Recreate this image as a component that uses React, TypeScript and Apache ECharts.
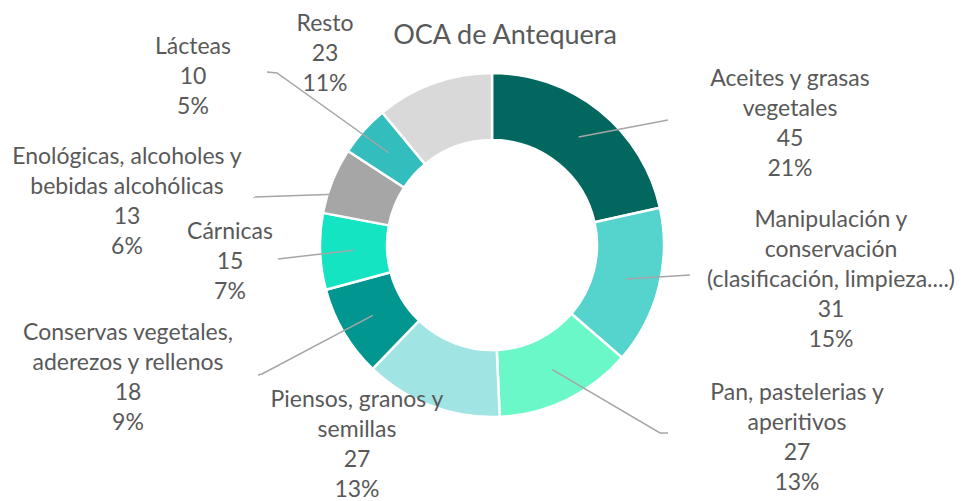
import React, { useEffect, useRef } from "react";
import * as echarts from "echarts";

const TITLE = "OCA de Antequera";
const CATEGORIES = [
  "Aceites y grasas\nvegetales",
  "Manipulación y\nconservación\n(clasificación, limpieza....)",
  "Pan, pastelerias y\naperitivos",
  "Piensos, granos y\nsemillas",
  "Conservas vegetales,\naderezos y rellenos",
  "Cárnicas",
  "Enológicas, alcoholes y\nbebidas alcohólicas",
  "Lácteas",
  "Resto",
];
const VALUES = [45, 31, 27, 27, 18, 15, 13, 10, 23];
const PERCENTS = [21, 15, 13, 13, 9, 7, 6, 5, 11];
const COLORS = [
  "#02675F",
  "#55D3CD",
  "#6AF8C8",
  "#A0E4E4",
  "#01968F",
  "#14E4C2",
  "#A6A6A6",
  "#33BDBD",
  "#D9D9D9",
];

// layout only: label centre and leader-line elbow/end points (pixels)
const CENTER = [492, 245];
const RADIUS = [105, 172];
const LABEL_POS: { x: number; y: number; line: number[][] | null }[] = [
  { x: 790, y: 122, line: [[668, 120], [668, 120]] },
  { x: 831, y: 278, line: [[690, 275], [690, 275]] },
  { x: 797, y: 436, line: [[660, 433], [668, 433]] },
  { x: 357, y: 443, line: null },
  { x: 128, y: 376, line: [[262, 374], [258, 375]] },
  { x: 230, y: 260, line: [[278, 259], [278, 259]] },
  { x: 127, y: 200, line: [[253, 197], [253, 197]] },
  { x: 193, y: 75, line: [[277, 73], [267, 72]] },
  { x: 325, y: 52, line: null },
];

export default function App() {
  const ref = useRef<HTMLDivElement>(null);
  useEffect(() => {
    document.body.style.margin = "0";
    const chart = echarts.init(ref.current!, undefined, { renderer: "svg" });
    const total = VALUES.reduce((a, b) => a + b, 0);
    const midR = (RADIUS[0] + RADIUS[1]) / 2;
    const starts: number[][] = [];
    let cum = 0;
    VALUES.forEach((v) => {
      const a = ((cum + v / 2) / total) * Math.PI * 2;
      starts.push([CENTER[0] + midR * Math.sin(a), CENTER[1] - midR * Math.cos(a)]);
      cum += v;
    });
    const guides = LABEL_POS.map((lp, i) =>
      lp.line
        ? {
            type: "polyline",
            z: 100,
            silent: true,
            shape: { points: [starts[i], lp.line[0], lp.line[1]] },
            style: { stroke: "#A6A6A6", lineWidth: 1.5, fill: null },
          }
        : null
    ).filter(Boolean);
    chart.setOption({
      animation: false,
      title: {
        text: TITLE,
        left: 505,
        top: 15,
        textAlign: "center",
        textStyle: {
          fontFamily: "Lato",
          fontSize: 27,
          fontWeight: "normal",
          color: "#595959",
        },
      },
      graphic: { elements: guides },
      series: [
        {
          type: "pie",
          center: CENTER,
          radius: RADIUS,
          startAngle: 90,
          clockwise: true,
          avoidLabelOverlap: false,
          itemStyle: { borderColor: "#ffffff", borderWidth: 2.5 },
          label: {
            show: true,
            position: "outside",
            fontFamily: "Lato",
            fontSize: 23,
            lineHeight: 30,
            color: "#595959",
            align: "center",
            formatter: (p: any) => `${p.name}\n${p.value}\n${PERCENTS[p.dataIndex]}%`,
          },
          labelLine: { show: false },
          labelLayout: (params: any) => {
            const lp = LABEL_POS[params.dataIndex];
            return {
              x: lp.x,
              y: lp.y,
              align: "center",
              verticalAlign: "middle",
            };
          },
          data: CATEGORIES.map((name, i) => ({
            name,
            value: VALUES[i],
            itemStyle: { color: COLORS[i] },
          })),
        },
      ],
    });
    chart.setOption({ title: { left: 500 } });
    return () => chart.dispose();
  }, []);
  return <div ref={ref} style={{ width: 967, height: 501 }} />;
}
